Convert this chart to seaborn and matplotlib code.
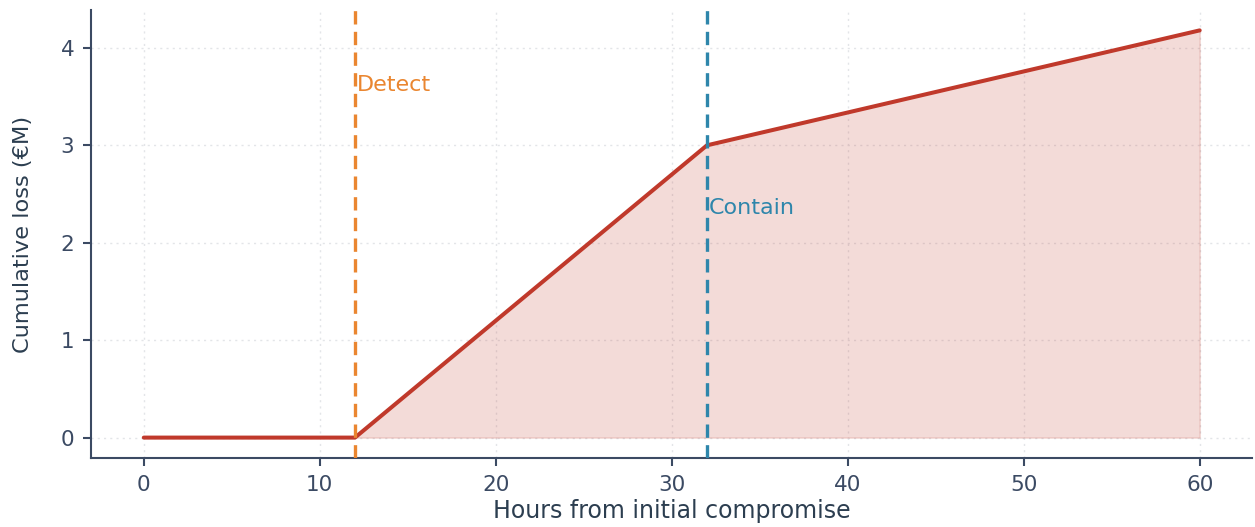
import matplotlib
matplotlib.use("Agg")
import matplotlib.pyplot as plt
import seaborn as sns
import pandas as pd

# cumulative loss curve (hours, EUR millions)
hours = [0, 12, 32, 60]
loss = [0.0, 0.0, 3.0, 4.18]

# response milestones
events = ["Detect", "Contain"]
event_hours = [12, 32]
event_colors = ["#ea8630", "#2e86ab"]
label_y = [3.62, 2.36]

ink = "#3b4a63"
red = "#c0392b"

sns.set_theme(style="white")
plt.rcParams["font.family"] = ["DejaVu Sans"]

df = pd.DataFrame({"hours": hours, "loss": loss})

fig = plt.figure(figsize=(12.55, 5.27), dpi=100)
ax = fig.add_axes([0.0725, 0.131, 0.9255, 0.85])

ax.fill_between(df["hours"], df["loss"], where=df["loss"] > 0, interpolate=True,
                color=red, alpha=0.18, linewidth=1, zorder=1)
sns.lineplot(data=df, x="hours", y="loss", color=red, linewidth=2.9, ax=ax, zorder=3)

for name, h, c, ly in zip(events, event_hours, event_colors, label_y):
    ax.axvline(h, color=c, linestyle="--", linewidth=2.4, dashes=(4, 2.2), zorder=4)
    ax.text(h + 0.1, ly, name, color=c, fontsize=16, va="center", ha="left", zorder=5)

ax.set_xticks([0, 10, 20, 30, 40, 50, 60])
ax.set_yticks([0, 1, 2, 3, 4])
ax.grid(True, linestyle=(0, (1.5, 3)), color="#e3e5e8", linewidth=1)
ax.set_axisbelow(True)

for s in ["top", "right"]:
    ax.spines[s].set_visible(False)
for s in ["left", "bottom"]:
    ax.spines[s].set_color(ink)
    ax.spines[s].set_linewidth(1.5)

ax.tick_params(axis="both", colors=ink, labelsize=15.5, length=6, width=1.5,
               direction="out", bottom=True, left=True, pad=6)
ax.set_xlabel("Hours from initial compromise", fontsize=17, color="#2c3e50", labelpad=3)
ax.set_ylabel("Cumulative loss (\u20acM)", fontsize=16.2, color="#2c3e50", labelpad=20)

fig.savefig("out.png", dpi=100)
